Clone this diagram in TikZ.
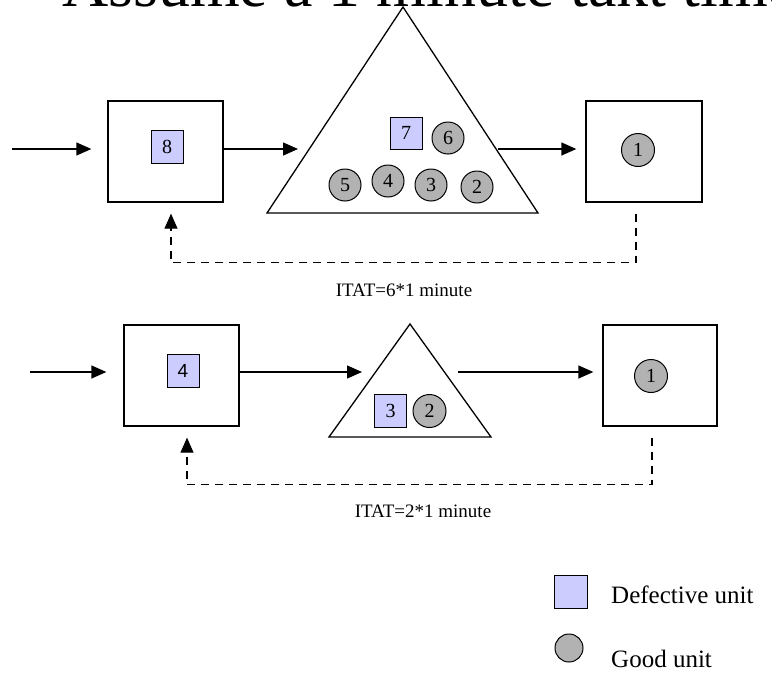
\documentclass[tikz,border=0pt]{standalone}
\usepackage{fontspec}
\setmainfont{Liberation Serif}
\newfontfamily\sansdigits{Liberation Sans}
\usetikzlibrary{arrows.meta}

\definecolor{defectfill}{RGB}{204,204,255}
\definecolor{goodfill}{RGB}{178,178,178}

\begin{document}
\begin{tikzpicture}[x=1pt, y=-1pt,
  station/.style={draw, line width=1.3pt, minimum width=115pt, minimum height=101pt, inner sep=0pt},
  defect/.style={draw, line width=1pt, fill=defectfill, minimum width=32pt, minimum height=33pt,
                 inner sep=0pt, font=\fontsize{20}{20}\selectfont},
  good/.style={draw, circle, line width=1pt, fill=goodfill, minimum size=32pt, inner sep=0pt,
               font=\fontsize{20}{20}\selectfont},
  buffer/.style={draw, line width=1.3pt, line join=miter},
  flow/.style={line width=1.3pt, -{Triangle[length=15pt,width=13pt]}},
  feedback/.style={line width=1.1pt, dash pattern=on 8pt off 6pt, -{Triangle[length=15pt,width=13pt]}},
  caption/.style={font=\fontsize{19}{19}\selectfont, inner sep=0pt},
  legendtext/.style={font=\fontsize{25}{25}\selectfont, inner sep=0pt, anchor=base west}]

\useasboundingbox (0,0) rectangle (772,675);
\clip (0,0) rectangle (772,675);
\fill[white] (0,0) rectangle (772,675);

% heading, cut off by the top edge
\node[anchor=base west, inner sep=0pt, font=\fontsize{64}{64}\selectfont] (heading) at (62,6)
  {Assume a 1 minute takt time};

% ---------------- large batch ----------------
\node[station] (s1a) at (165.5,151.5) {};
\node[defect] (u8) at (167,146.5) {8};

\coordinate (t1apex) at (403,7);
\coordinate (t1left) at (267,213);
\coordinate (t1right) at (538,213);
\draw[buffer] (t1apex) -- (t1left) -- (t1right) -- cycle;
\node[defect, minimum height=32pt] (u7) at (406,133) {7};
\node[good] (u6) at (448,138) {6};
\node[good] (u5) at (345,185) {5};
\node[good] (u4) at (388,181) {4};
\node[good] (u3) at (431,185) {3};
\node[good] (u2) at (477,187) {2};

\node[station, minimum width=116pt] (s2a) at (644,151.5) {};
\node[good, minimum size=33pt] (u1a) at (638,150) {1};

\coordinate (in1) at (12,149);
\coordinate (q1in) at (298,149);
\coordinate (q1out) at (498,149);
\draw[flow, shorten >=16pt] (in1) -- (in1 -| s1a.west);
\draw[flow] (in1 -| s1a.east) -- (q1in);
\draw[flow, shorten >=9pt] (q1out) -- (q1out -| s2a.west);

\coordinate (fb1from) at ([xshift=-8pt,yshift=-11pt]s2a.south);
\coordinate (fb1to) at ([xshift=5.5pt,yshift=-11pt]s1a.south);
\draw[feedback] (fb1from) -- ++(0,49) -| (fb1to);
\node[caption] (itat1) at (404,290) {ITAT=6*1 minute};

% ---------------- small batch ----------------
\node[station] (s1b) at (181.5,375.5) {};
\node[defect, font=\sansdigits\fontsize{19}{19}\selectfont] (v4) at (183,370.5) {4};

\coordinate (t2apex) at (410,324);
\coordinate (t2left) at (329,437);
\coordinate (t2right) at (491,437);
\draw[buffer] (t2apex) -- (t2left) -- (t2right) -- cycle;
\node[defect] (v3) at (390.5,410.5) {3};
\node[good, minimum size=33pt] (v2) at (429.5,411) {2};

\node[station, minimum width=114pt] (s2b) at (660,375.5) {};
\node[good, minimum size=33pt] (v1) at (651,376) {1};

\coordinate (in2) at (30,372);
\coordinate (q2in) at (362,372);
\coordinate (q2out) at (458,372);
\draw[flow, shorten >=17pt] (in2) -- (in2 -| s1b.west);
\draw[flow] (in2 -| s1b.east) -- (q2in);
\draw[flow, shorten >=9pt] (q2out) -- (q2out -| s2b.west);

\coordinate (fb2from) at ([xshift=-8pt,yshift=-11pt]s2b.south);
\coordinate (fb2to) at ([xshift=5.5pt,yshift=-11pt]s1b.south);
\draw[feedback] (fb2from) -- ++(0,47) -| (fb2to);
\node[caption] (itat2) at (423,511) {ITAT=2*1 minute};

% ---------------- legend ----------------
\node[defect, minimum width=33pt] (keydefect) at (570.5,591.5) {};
\node[legendtext] (keydefecttext) at (611,603) {Defective unit};
\node[good, minimum size=28pt] (keygood) at (569,648) {};
\node[legendtext] (keygoodtext) at (611,667) {Good unit};
\end{tikzpicture}
\end{document}
